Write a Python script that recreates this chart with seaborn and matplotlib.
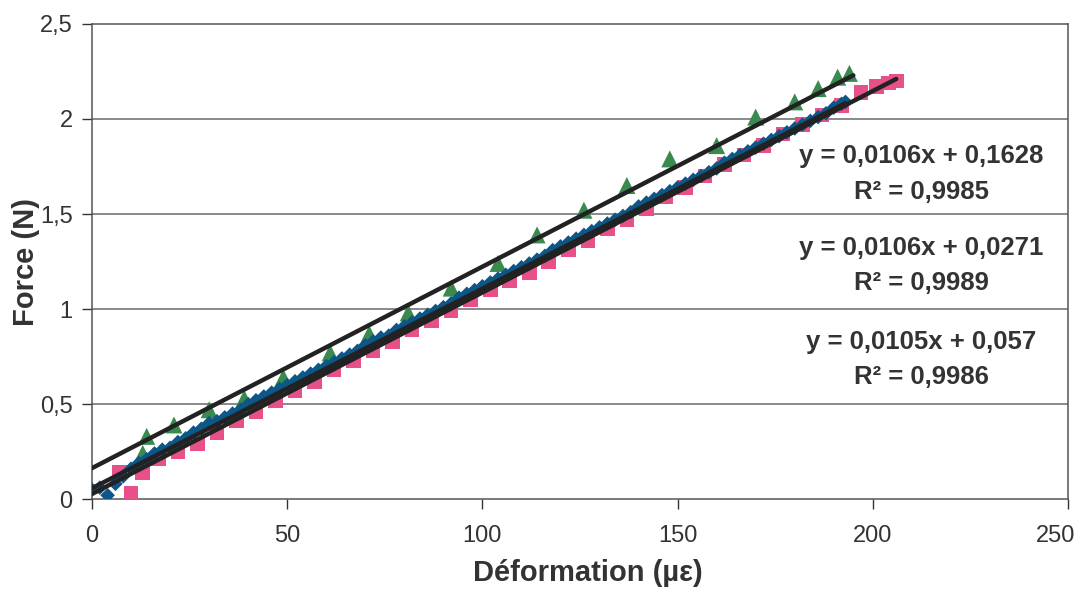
import matplotlib
matplotlib.use("Agg")
import matplotlib.pyplot as plt
import matplotlib.transforms as mtrans
import seaborn as sns
import pandas as pd
import numpy as np

# ---------------- data ----------------
green_x = [13, 14, 21, 30, 39, 49, 61, 71, 81, 92, 104, 114, 126, 137, 148, 160, 170, 180, 186, 191, 194]
green_y = [0.24, 0.33, 0.39, 0.47, 0.53, 0.64, 0.77, 0.87, 0.98, 1.11, 1.24, 1.39, 1.52, 1.65, 1.79, 1.86,
           2.01, 2.09, 2.16, 2.22, 2.24]

pink_x = [7, 10, 13, 17, 22, 27, 32, 37, 42, 47, 52, 57, 62, 67, 72, 77, 82, 87, 92, 97, 102, 107, 112, 117,
          122, 127, 132, 137, 142, 147, 152, 157, 162, 167, 172, 177, 182, 187, 192, 197, 201, 204, 206]
pink_y = [0.14, 0.03, 0.14, 0.21, 0.25, 0.29, 0.35, 0.41, 0.46, 0.52, 0.57, 0.62, 0.68, 0.73, 0.78, 0.83,
          0.89, 0.94, 0.99, 1.05, 1.10, 1.15, 1.19, 1.25, 1.31, 1.36, 1.42, 1.47, 1.53, 1.59, 1.64, 1.70,
          1.76, 1.81, 1.86, 1.92, 1.97, 2.02, 2.07, 2.14, 2.17, 2.19, 2.20]

blue_x = [0, 2, 4, 6, 8, 10, 12, 14, 16, 18, 20, 22, 24, 26, 28, 30, 32, 34, 36, 38, 40, 42, 44, 46, 48,
          50, 52, 54, 56, 58, 60, 62, 64, 66, 68, 70, 72, 74, 76, 78, 80, 82, 84, 86, 88, 90, 92, 94, 96,
          98, 100, 102, 104, 106, 108, 110, 112, 114, 116, 118, 120, 122, 124, 126, 128, 130, 132, 134,
          136, 138, 140, 142, 144, 146, 148, 150, 152, 154, 156, 158, 160, 162, 164, 166, 168, 170, 172,
          174, 176, 178, 180, 182, 184, 186, 188, 190, 192, 193]
blue_y = [0.05, 0.06, 0.02, 0.08, 0.12, 0.16, 0.19, 0.21, 0.24, 0.26, 0.27, 0.30, 0.32, 0.35, 0.37, 0.40,
          0.41, 0.43, 0.45, 0.47, 0.50, 0.52, 0.54, 0.56, 0.58, 0.60, 0.62, 0.64, 0.66, 0.68, 0.70, 0.72,
          0.74, 0.76, 0.78, 0.81, 0.83, 0.85, 0.86, 0.89, 0.91, 0.93, 0.95, 0.97, 0.99, 1.01, 1.03, 1.06,
          1.08, 1.10, 1.12, 1.14, 1.16, 1.18, 1.20, 1.22, 1.24, 1.26, 1.28, 1.31, 1.33, 1.35, 1.37, 1.39,
          1.41, 1.43, 1.45, 1.47, 1.49, 1.51, 1.54, 1.56, 1.58, 1.60, 1.62, 1.64, 1.66, 1.68, 1.70, 1.72,
          1.74, 1.77, 1.79, 1.81, 1.83, 1.85, 1.87, 1.89, 1.91, 1.93, 1.95, 1.97, 1.99, 2.01, 2.03, 2.06,
          2.08, 2.09]

# trendline coefficients (slope, intercept, x end)
fit_slopes = [0.0106, 0.0106, 0.0105]
fit_intercepts = [0.1628, 0.0271, 0.057]
fit_xmax = [195, 206, 193]
fit_labels = ["y = 0,0106x + 0,1628\nR² = 0,9985",
              "y = 0,0106x + 0,0271\nR² = 0,9989",
              "y = 0,0105x + 0,057\nR² = 0,9986"]

x_ticks = [0, 50, 100, 150, 200, 250]
y_ticks = [0, 0.5, 1, 1.5, 2, 2.5]
y_tick_labels = ["0", "0,5", "1", "1,5", "2", "2,5"]

# ---------------- plot ----------------
sns.set_theme(style="white")
plt.rcParams["font.family"] = ["Liberation Sans", "DejaVu Sans"]

fig = plt.figure(figsize=(10.8, 5.92), dpi=100)
ax = fig.add_axes([0.0852, 0.157, 0.9037, 0.8025])

ax.set_xlim(0, 250)
ax.set_ylim(0, 2.5)
for yt in y_ticks[1:-1]:
    ax.axhline(yt, color="#6a6a6a", lw=1.1, zorder=0)

df_b = pd.DataFrame({"x": blue_x, "y": blue_y})
df_p = pd.DataFrame({"x": pink_x, "y": pink_y})
df_g = pd.DataFrame({"x": green_x, "y": green_y})

sns.scatterplot(data=df_p, x="x", y="y", ax=ax, marker="s", s=110, color="#e8508a",
                edgecolor="none", zorder=3)
sns.scatterplot(data=df_g, x="x", y="y", ax=ax, marker="^", s=150, color="#3a8a50",
                edgecolor="none", zorder=3)
sns.scatterplot(data=df_b, x="x", y="y", ax=ax, marker="D", s=55, color="#0d5688",
                edgecolor="none", zorder=4)

for m, b, xm in zip(fit_slopes, fit_intercepts, fit_xmax):
    xs = np.array([0, xm])
    dfl = pd.DataFrame({"x": xs, "y": m * xs + b})
    sns.lineplot(data=dfl, x="x", y="y", ax=ax, color="#222222", lw=3.2, zorder=5)

# equation labels
label_pos = [(0.85, 0.684), (0.85, 0.492), (0.85, 0.294)]
for (px, py), txt in zip(label_pos, fit_labels):
    ax.text(px, py, txt, transform=ax.transAxes, ha="center", va="center",
            multialignment="center", fontsize=18.5, fontweight="bold", color="#333333",
            linespacing=1.6, zorder=6)

ax.set_xticks(x_ticks)
ax.set_xticklabels([str(t) for t in x_ticks])
ax.set_yticks(y_ticks)
ax.set_yticklabels(y_tick_labels)
ax.tick_params(axis="both", labelsize=17, colors="#333333", length=7, width=1,
               direction="out", bottom=True, left=True)
ax.tick_params(axis="x", pad=12)
ax.tick_params(axis="y", pad=7)
# shift the last x tick label slightly left so it stays inside the figure
last = ax.get_xticklabels()[-1]
last.set_transform(last.get_transform() + mtrans.ScaledTranslation(-12 / 100, 0, fig.dpi_scale_trans))

for sp in ax.spines.values():
    sp.set_color("#555555")
    sp.set_linewidth(1.1)

ax.set_xlabel("Déformation (µε)", fontsize=21, fontweight="bold", color="#333333")
ax.xaxis.set_label_coords(0.508, -0.127)
ax.set_ylabel("Force (N)", fontsize=21, fontweight="bold", color="#333333")
ax.yaxis.set_label_coords(-0.053, 0.5)

fig.savefig("out.png", dpi=100)
